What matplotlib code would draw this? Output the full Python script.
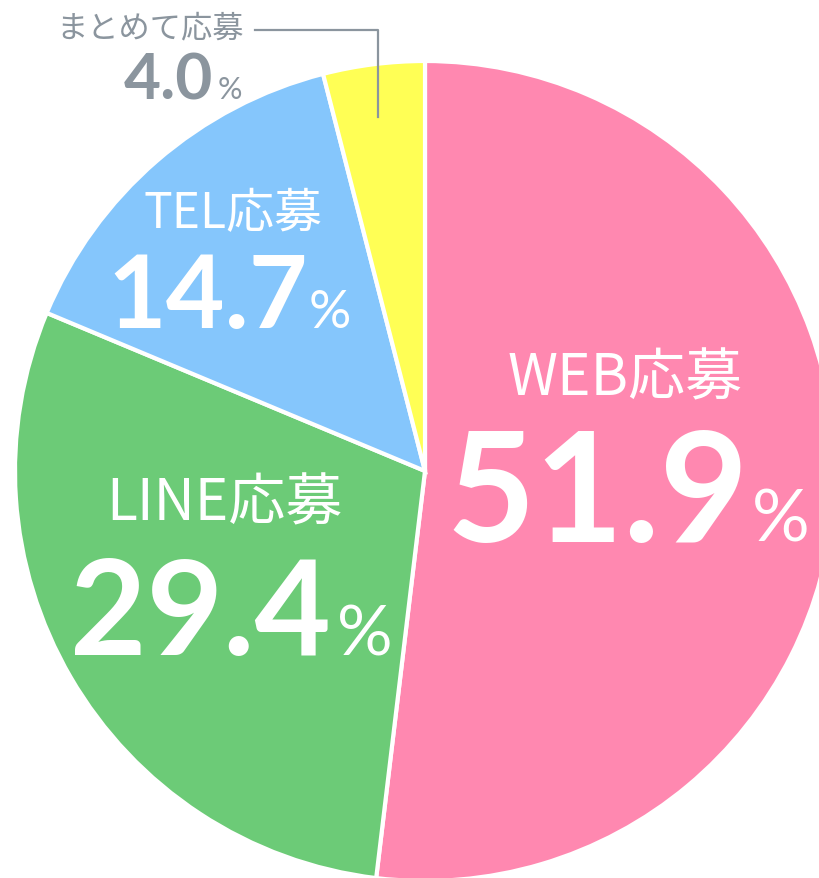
import matplotlib
matplotlib.use("Agg")
import matplotlib.pyplot as plt

labels = ["WEB応募", "LINE応募", "TEL応募", "まとめて応募"]
shares = [51.9, 29.4, 14.7, 4.0]
colors = ["#ff88b0", "#6ccb77", "#85c6fc", "#ffff55"]

jp = ["Noto Sans CJK JP", "DejaVu Sans"]
num = ["Lato", "DejaVu Sans"]
grey = "#8b959e"

fig = plt.figure(figsize=(8.2, 8.79), dpi=100)
ax = fig.add_axes([0, 0, 1, 1])

# 画素座標で扱う (y は下から)
H = 879
ax.pie(shares, colors=colors, startangle=90, counterclock=False,
       center=(425, H - 472), radius=410,
       wedgeprops=dict(edgecolor="white", linewidth=3))
ax.set_xlim(0, 820)
ax.set_ylim(0, H)
ax.set_aspect("equal")
ax.axis("off")

# ラベル: (名前の中心x, 名前のy, 数値の右端x, 数値の基線y, %の左端x, 名前サイズ, 数値サイズ, %サイズ)
pos = [
    (625, 379, 749, 542, 752, 41, 110, 52),
    (224, 504, 331, 655, 337, 41, 95, 50),
    (233, 214, 308, 328, 309, 34.5, 73, 38),
]
for i, (lx, ly, nx, ny, px, s1, s2, s3) in enumerate(pos):
    ax.text(lx, H - ly, labels[i], family=jp, fontsize=s1, color="white",
            ha="center", va="center")
    ax.text(nx, H - ny, f"{shares[i]:.1f}", family=num, fontsize=s2,
            fontweight="bold", color="white", ha="right", va="baseline")
    ax.text(px, H - ny, "%", family=num, fontsize=s3,
            color="white", ha="left", va="baseline")

# まとめて応募 (外側ラベルと引き出し線)
ax.text(244, H - 28, labels[3], family=jp, fontsize=22.5, color=grey,
        ha="right", va="center")
ax.text(213, H - 99, f"{shares[3]:.1f}", family=num, fontsize=46,
        fontweight="bold", color=grey, ha="right", va="baseline")
ax.text(218, H - 99, "%", family=num, fontsize=22, color=grey,
        ha="left", va="baseline")
ax.plot([255, 378, 378], [H - 31, H - 31, H - 118], color=grey, lw=1.6)

fig.savefig("out.png", dpi=100)
